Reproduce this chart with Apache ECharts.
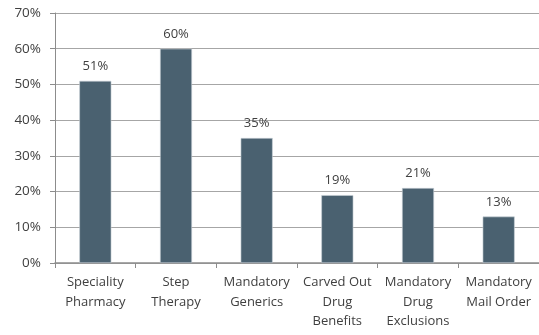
<!DOCTYPE html>
<html>
<head>
<meta charset="utf-8">
<script src="https://cdn.jsdelivr.net/npm/echarts@6/dist/echarts.min.js"></script>
<style>
  html, body { margin: 0; padding: 0; background: #fff; }
  #chart { width: 539px; height: 335px; }
</style>
</head>
<body>
<div id="chart"></div>
<script>
// Share of plans using each pharmacy management tool
const categories = [
  'Speciality\nPharmacy',
  'Step\nTherapy',
  'Mandatory\nGenerics',
  'Carved Out\nDrug\nBenefits',
  'Mandatory\nDrug\nExclusions',
  'Mandatory\nMail Order'
];
const values = [51, 60, 35, 19, 21, 13];
const yTicks = { min: 0, max: 70, step: 10 };

const font = 'Open Sans, Liberation Sans, sans-serif';
const chart = echarts.init(document.getElementById('chart'));
chart.setOption({
  animation: false,
  grid: { left: 55, right: 0, top: 13, bottom: 72, containLabel: false },
  xAxis: {
    type: 'category',
    data: categories,
    axisLine: { lineStyle: { color: '#8c8c8c', width: 1.5 } },
    axisTick: { show: true, length: 5, lineStyle: { color: '#8c8c8c' } },
    axisLabel: {
      color: '#404040', fontFamily: font, fontSize: 13,
      lineHeight: 19.5, margin: 10, interval: 0
    }
  },
  yAxis: {
    type: 'value',
    min: yTicks.min, max: yTicks.max, interval: yTicks.step,
    axisLine: { show: true, lineStyle: { color: '#8c8c8c' } },
    axisTick: { show: true, length: 5, lineStyle: { color: '#8c8c8c' } },
    splitLine: { lineStyle: { color: '#a6a6a6', width: 1 } },
    axisLabel: {
      color: '#404040', fontFamily: font, fontSize: 13.5, margin: 14,
      formatter: v => v + '%'
    }
  },
  series: [{
    type: 'bar',
    data: values,
    barWidth: 32,
    itemStyle: { color: '#4a6170', borderColor: '#c9d1d6', borderWidth: 0.6 },
    label: {
      show: true, position: 'top', distance: 8,
      color: '#404040', fontFamily: font, fontSize: 13,
      formatter: p => p.value + '%'
    }
  }]
});
</script>
</body>
</html>
